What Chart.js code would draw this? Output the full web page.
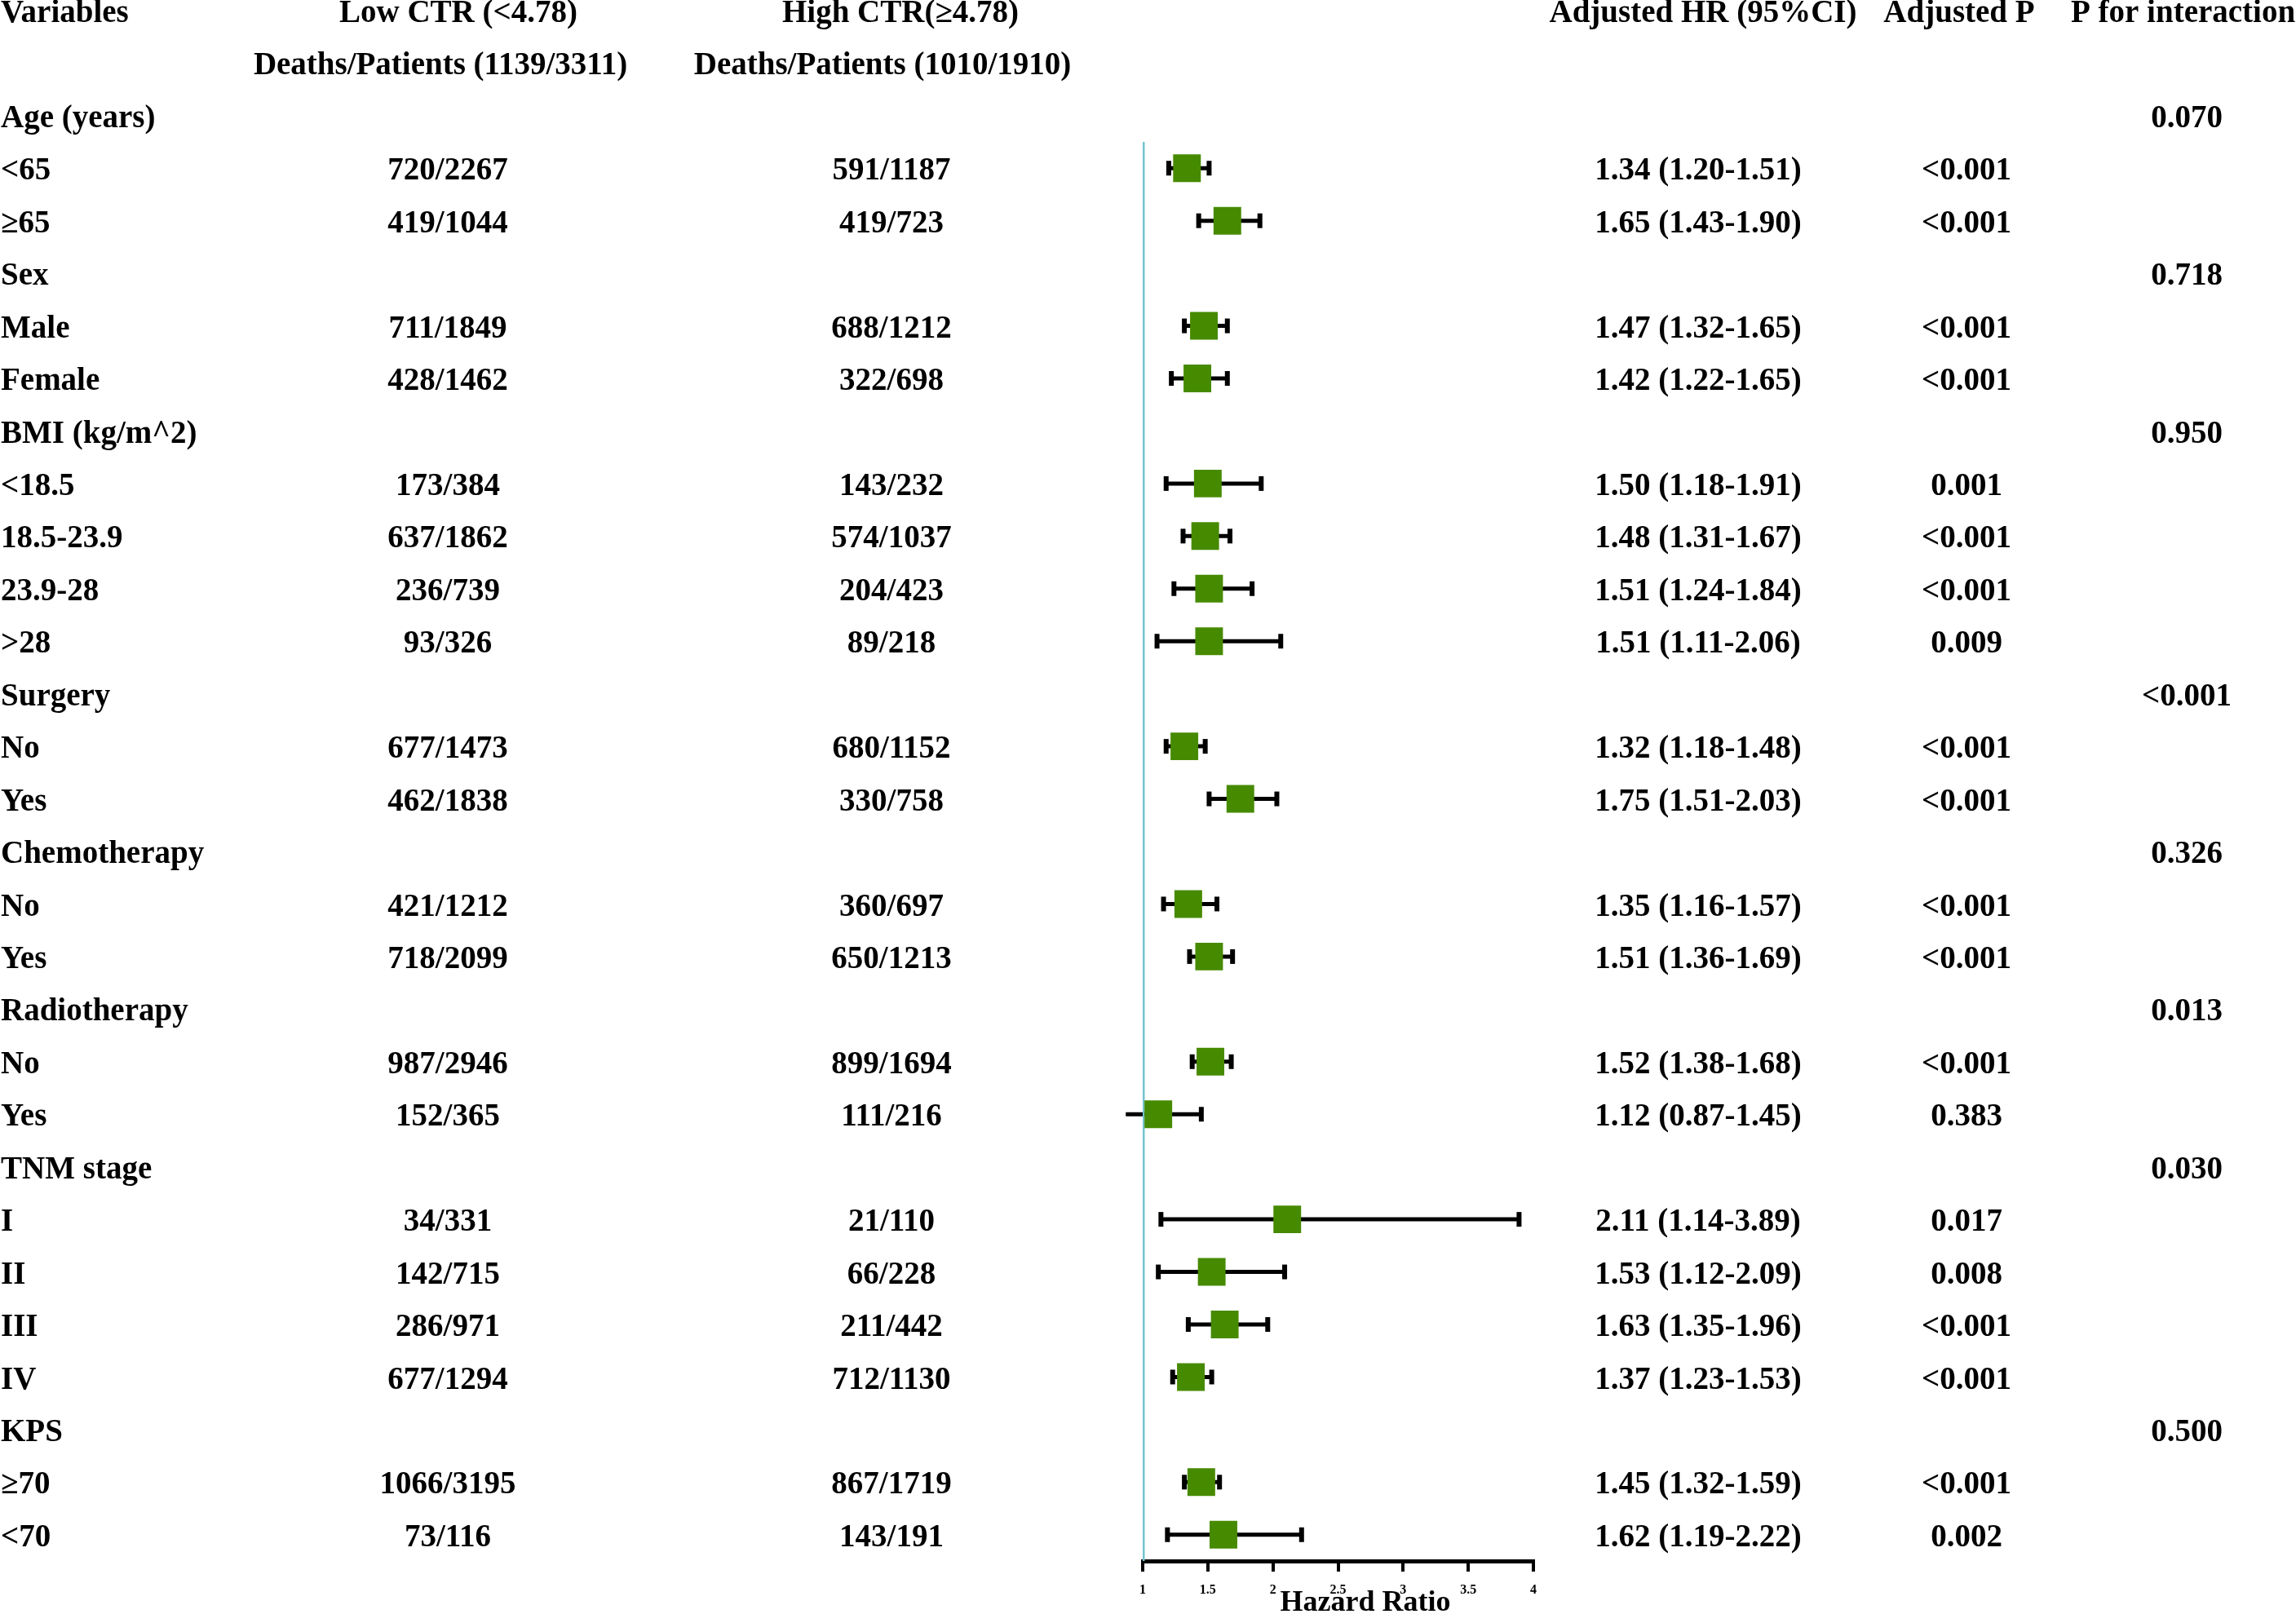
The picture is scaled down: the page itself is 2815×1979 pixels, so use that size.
<!DOCTYPE html>
<html>
<head>
<meta charset="utf-8">
<script src="https://cdn.jsdelivr.net/npm/chart.js@4.4.1/dist/chart.umd.min.js"></script>
<style>
  html, body { margin: 0; padding: 0; background: #fff; }
  canvas { display: block; }
</style>
</head>
<body>
<canvas id="forest" width="2815" height="1979"></canvas>
<script>
// rows of the table, starting at row index 2 (rows 0 and 1 are the header)
const rowLabels = ['Age (years)', '<65', '≥65', 'Sex', 'Male', 'Female', 'BMI (kg/m^2)', '<18.5', '18.5-23.9', '23.9-28', '>28',
  'Surgery', 'No', 'Yes', 'Chemotherapy', 'No', 'Yes', 'Radiotherapy', 'No', 'Yes', 'TNM stage', 'I', 'II', 'III', 'IV', 'KPS', '≥70', '<70'];
const lowCTR = [null, '720/2267', '419/1044', null, '711/1849', '428/1462', null, '173/384', '637/1862', '236/739', '93/326',
  null, '677/1473', '462/1838', null, '421/1212', '718/2099', null, '987/2946', '152/365', null, '34/331', '142/715', '286/971', '677/1294', null, '1066/3195', '73/116'];
const highCTR = [null, '591/1187', '419/723', null, '688/1212', '322/698', null, '143/232', '574/1037', '204/423', '89/218',
  null, '680/1152', '330/758', null, '360/697', '650/1213', null, '899/1694', '111/216', null, '21/110', '66/228', '211/442', '712/1130', null, '867/1719', '143/191'];
const hr = [null, 1.34, 1.65, null, 1.47, 1.42, null, 1.50, 1.48, 1.51, 1.51,
  null, 1.32, 1.75, null, 1.35, 1.51, null, 1.52, 1.12, null, 2.11, 1.53, 1.63, 1.37, null, 1.45, 1.62];
const ciLow = [null, 1.20, 1.43, null, 1.32, 1.22, null, 1.18, 1.31, 1.24, 1.11,
  null, 1.18, 1.51, null, 1.16, 1.36, null, 1.38, 0.87, null, 1.14, 1.12, 1.35, 1.23, null, 1.32, 1.19];
const ciHigh = [null, 1.51, 1.90, null, 1.65, 1.65, null, 1.91, 1.67, 1.84, 2.06,
  null, 1.48, 2.03, null, 1.57, 1.69, null, 1.68, 1.45, null, 3.89, 2.09, 1.96, 1.53, null, 1.59, 2.22];
const adjP = [null, '<0.001', '<0.001', null, '<0.001', '<0.001', null, '0.001', '<0.001', '<0.001', '0.009',
  null, '<0.001', '<0.001', null, '<0.001', '<0.001', null, '<0.001', '0.383', null, '0.017', '0.008', '<0.001', '<0.001', null, '<0.001', '0.002'];
const pInteraction = ['0.070', null, null, '0.718', null, null, '0.950', null, null, null, null,
  '<0.001', null, null, '0.326', null, null, '0.013', null, null, '0.030', null, null, null, null, '0.500', null, null];

const headerTop = ['Variables', 'Low CTR (<4.78)', 'High CTR(≥4.78)', 'Adjusted HR (95%CI)', 'Adjusted P', 'P for interaction'];
const headerSub = ['Deaths/Patients (1139/3311)', 'Deaths/Patients (1010/1910)'];
const xTicks = [1, 1.5, 2, 2.5, 3, 3.5, 4];
const axisTitle = 'Hazard Ratio';

const FIRST_ROW = 2;
const FONT = 'bold 39px "Liberation Serif", "Times New Roman", serif';

// build the marks from the arrays
const boxes = [], caps = [], ciLines = [];
hr.forEach((v, i) => {
  if (v === null) return;
  const y = FIRST_ROW + i;
  boxes.push({ x: v, y });
  caps.push({ x: ciLow[i], y }, { x: ciHigh[i], y });
  ciLines.push({ x: ciLow[i], y }, { x: ciHigh[i], y }, { x: null, y: null });
});
const lastRow = FIRST_ROW + rowLabels.length - 1;

// table text drawn next to the plot, rows taken from the y scale
const tablePlugin = {
  id: 'tableText',
  afterDraw(chart) {
    const { ctx, scales: { y } } = chart;
    ctx.save();
    ctx.fillStyle = '#000';
    ctx.font = FONT;
    ctx.textBaseline = 'middle';
    const put = (txt, px, row, align) => {
      if (txt === null) return;
      ctx.textAlign = align;
      ctx.fillText(txt, px, y.getPixelForValue(row) + 4);
    };
    put(headerTop[0], 1, 0, 'left');
    put(headerTop[1], 562, 0, 'center');
    put(headerTop[2], 1104, 0, 'center');
    put(headerTop[3], 2088, 0, 'center');
    put(headerTop[4], 2402, 0, 'center');
    put(headerTop[5], 2539, 0, 'left');
    put(headerSub[0], 540, 1, 'center');
    put(headerSub[1], 1082, 1, 'center');

    rowLabels.forEach((lab, i) => {
      const row = FIRST_ROW + i;
      put(lab, 1, row, 'left');
      put(lowCTR[i], 549, row, 'center');
      put(highCTR[i], 1093, row, 'center');
      if (hr[i] !== null) {
        put(`${hr[i].toFixed(2)} (${ciLow[i].toFixed(2)}-${ciHigh[i].toFixed(2)})`, 2082, row, 'center');
      }
      put(adjP[i], 2411, row, 'center');
      put(pInteraction[i], 2681, row, 'center');
    });

    // axis title
    ctx.font = 'bold 36px "Liberation Serif", "Times New Roman", serif';
    ctx.textAlign = 'center';
    ctx.fillText(axisTitle, 1674, 1966);
    ctx.restore();
  }
};

new Chart(document.getElementById('forest'), {
  type: 'scatter',
  data: {
    datasets: [
      {
        // hazard ratio squares
        data: boxes,
        pointStyle: 'rect',
        pointRadius: 24,
        backgroundColor: '#468a00',
        borderColor: '#468a00',
        borderWidth: 0,
        order: 0
      },
      {
        // reference line at HR = 1
        data: [{ x: 1, y: FIRST_ROW + 0.5 }, { x: 1, y: lastRow + 0.5 }],
        showLine: true,
        borderColor: '#74c3cd',
        borderWidth: 5,
        borderCapStyle: 'round',
        pointRadius: 0,
        order: 1
      },
      {
        // CI end caps
        data: caps,
        pointStyle: 'line',
        rotation: 90,
        pointRadius: 9,
        borderColor: '#000',
        borderWidth: 6,
        clip: false,
        order: 2
      },
      {
        // CI whiskers
        data: ciLines,
        showLine: true,
        spanGaps: false,
        borderColor: '#000',
        borderWidth: 5,
        pointRadius: 0,
        clip: false,
        order: 3
      }
    ]
  },
  options: {
    responsive: false,
    devicePixelRatio: 1,
    animation: false,
    layout: { padding: { left: 1401, right: 935, top: 174, bottom: 0 } },
    plugins: { legend: { display: false }, tooltip: { enabled: false } },
    scales: {
      x: {
        type: 'linear',
        min: 1,
        max: 4,
        afterBuildTicks: (s) => { s.ticks = xTicks.map(v => ({ value: v })); },
        afterFit: (s) => { s.height = 65; },
        border: { display: true, color: '#000', width: 5 },
        grid: { drawOnChartArea: false, drawTicks: true, tickLength: 13, color: '#000', lineWidth: 4 },
        ticks: {
          padding: 13,
          color: '#000',
          maxRotation: 0,
          callback: (v) => String(v),
          font: { family: '"Liberation Serif", serif', size: 16, weight: 'bold' }
        }
      },
      y: {
        type: 'linear',
        display: false,
        reverse: true,
        min: FIRST_ROW + 0.5,
        max: lastRow + 0.5
      }
    }
  },
  plugins: [tablePlugin]
});
</script>
</body>
</html>
